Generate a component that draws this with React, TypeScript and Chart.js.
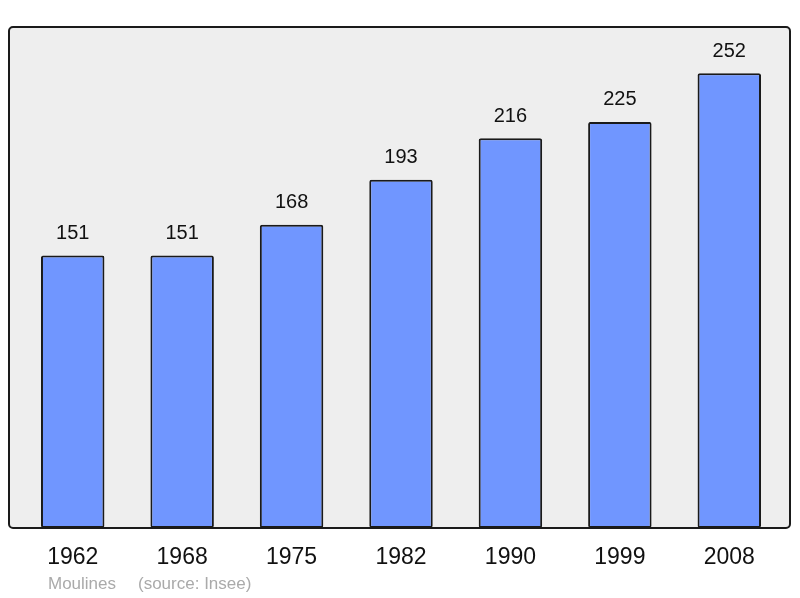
import { useEffect, useRef } from "react"
import { Chart, registerables } from "chart.js"

Chart.register(...registerables)

const years = ["1962", "1968", "1975", "1982", "1990", "1999", "2008"]
const population = [151, 151, 168, 193, 216, 225, 252]
const commune = "Moulines"
const source = "(source: Insee)"

const framePlugin = {
  id: "frame",
  beforeDraw(chart: Chart) {
    const { ctx } = chart
    ctx.save()
    ctx.beginPath()
    ctx.roundRect(9, 27, 781, 501, 4)
    ctx.fillStyle = "#eeeeee"
    ctx.fill()
    ctx.lineWidth = 2
    ctx.strokeStyle = "#1a1a1a"
    ctx.stroke()
    ctx.restore()
  },
  afterDraw(chart: Chart) {
    const { ctx } = chart
    const meta = chart.getDatasetMeta(0)
    ctx.save()
    ctx.fillStyle = "#111"
    ctx.font = "20px 'Liberation Sans', Arial, sans-serif"
    ctx.textAlign = "center"
    ctx.textBaseline = "middle"
    meta.data.forEach((bar, i) => {
      ctx.fillText(String(population[i]), bar.x, bar.y - 22)
    })
    ctx.fillStyle = "#aaaaaa"
    ctx.font = "17px 'Liberation Sans', Arial, sans-serif"
    ctx.textAlign = "left"
    ctx.fillText(commune, 48, 584)
    ctx.fillText(source, 138, 584)
    ctx.restore()
  },
}

export default function App() {
  const chartRef = useRef<HTMLCanvasElement>(null)
  const chartInstance = useRef<Chart | null>(null)

  useEffect(() => {
    document.body.style.margin = "0"
    if (!chartRef.current) return
    if (chartInstance.current) chartInstance.current.destroy()

    chartInstance.current = new Chart(chartRef.current, {
      type: "bar",
      data: {
        labels: years,
        datasets: [
          {
            data: population,
            backgroundColor: "#7096ff",
            borderColor: "#1a1a1a",
            borderWidth: 2,
            borderRadius: 2,
            borderSkipped: false,
            barPercentage: 0.58,
            categoryPercentage: 1,
          },
        ],
      },
      options: {
        animation: false,
        responsive: false,
        layout: { padding: { left: 18, right: 16, top: 27, bottom: 0 } },
        plugins: { legend: { display: false }, tooltip: { enabled: false } },
        scales: {
          x: {
            grid: { display: false },
            border: { display: false },
            ticks: {
              color: "#111",
              font: { size: 23, family: "'Liberation Sans', Arial, sans-serif" },
              padding: 8,
              maxRotation: 0,
            },
            afterFit: (scale) => {
              scale.height = 70
            },
          },
          y: { display: false, min: 0, max: 277.6 },
        },
      },
      plugins: [framePlugin],
    })

    return () => {
      if (chartInstance.current) {
        chartInstance.current.destroy()
        chartInstance.current = null
      }
    }
  }, [])

  return (
    <div style={{ width: 800, height: 598 }}>
      <canvas ref={chartRef} width={800} height={598} />
    </div>
  )
}
